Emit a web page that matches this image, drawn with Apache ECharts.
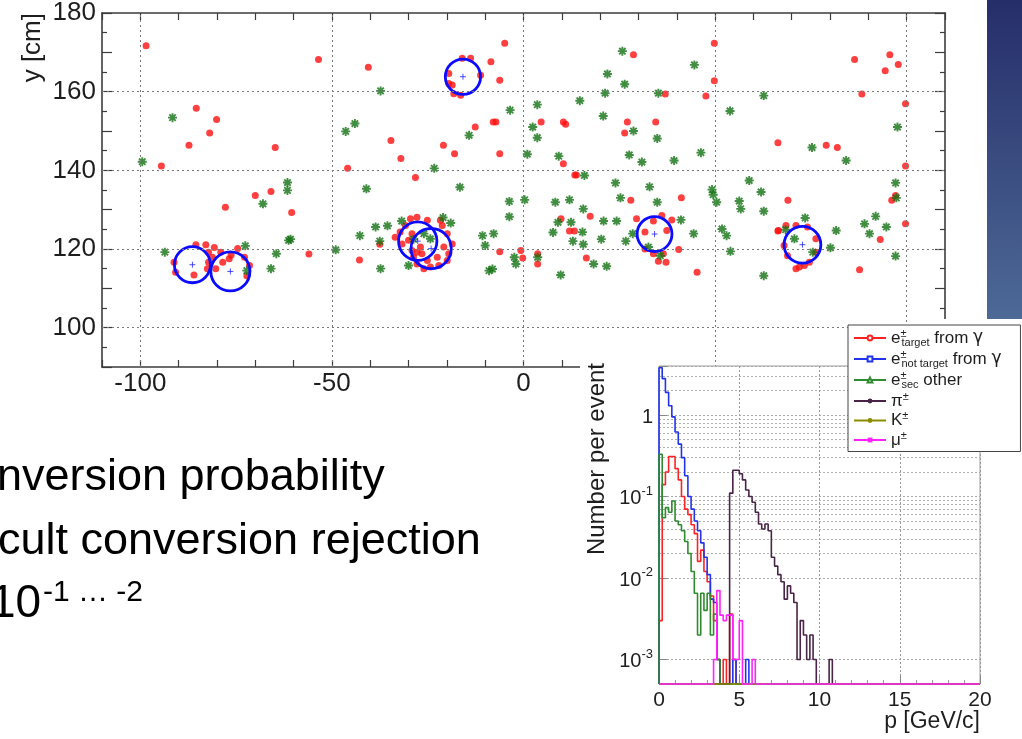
<!DOCTYPE html>
<html><head><meta charset="utf-8">
<script src="https://cdn.jsdelivr.net/npm/echarts@6/dist/echarts.min.js"></script>
<style>html,body{margin:0;padding:0;background:#fff}#c{width:1022px;height:739px}</style>
</head><body><div id="c"></div>
<script>
const FONT = '"Liberation Sans", Arial, Helvetica, sans-serif';

// ---------- scatter (hit map) data ----------
const RED_POINTS = [
[-98.5,171.7],[-53.5,168.2],[-85.4,155.8],[-80.1,152.9],[-81.9,149.5],[-87.3,146.4],[-94.5,141.1],[-64.8,145.8],[-77.8,130.6],[-70.0,133.6],[-65.9,134.6],[-60.5,129.3],[-56.0,118.7],
[-40.5,166.2],[-45.9,140.5],[-34.6,147.6],[-32.0,143.0],[-28.2,138.2],[-20.9,146.4],[-18.0,144.2],[-12.6,151.0],[-7.9,152.3],[-7.2,152.3],[-6.2,162.9],[-8.5,167.6],[-4.9,172.3],[-6.2,144.2],[-6.2,119.3],[-42.8,117.2],[-37.5,121.2],
[-85.5,121.1],[-82.9,121.1],[-80.7,120.4],[-82.2,119.2],[-81.2,117.9],[-82.2,116.6],[-82.5,115.0],[-86.0,113.4],[-91.2,116.6],[-90.8,114.1],[-79.0,119.2],[-76.3,118.5],[-74.6,120.1],[-72.8,117.9],[-71.5,115.8],[-72.2,113.2],[-76.8,117.5],[-78.5,116.6],[-80.3,115.0],
[-33.5,123.0],[-32.2,124.3],[-31.7,121.3],[-29.5,127.7],[-27.8,128.1],[-25.1,127.3],[-21.7,127.3],[-21.2,126.0],[-19.9,123.9],[-18.6,121.3],[-19.5,118.8],[-19.9,117.1],[-22.1,115.8],[-24.3,115.4],[-26.0,115.0],[-27.8,116.2],[-28.7,117.9],[-29.1,119.6],[-27.8,119.2],[-26.5,118.8],[-26.9,120.5],[-30.0,122.2],[-29.1,123.9],[-30.8,126.0],[-22.5,117.9],[-25.1,117.1],[-20.8,120.5],
[-16.0,168.5],[-13.8,168.5],[-11.2,164.2],[-19.5,164.6],[-19.5,162.1],[-18.6,161.7],[-18.2,159.5],[-16.4,159.1],
[29.5,127.7],[31.7,124.3],[33.9,127.1],[36.1,128.5],[31.7,120.0],[33.9,118.8],[36.5,118.8],[37.2,116.6],[35.2,116.9],[37.4,124.7],
[66.5,124.7],[68.5,126.0],[71.1,126.0],[74.1,125.6],[76.3,122.6],[76.3,119.2],[74.6,116.6],[72.0,115.4],[71.1,115.0],[68.9,118.3],[68.0,120.9],[73.3,115.8],
[28.7,169.4],[49.8,172.3],[49.8,162.8],[47.6,158.9],[37.0,159.4],[4.6,152.3],[10.4,152.3],[11.0,151.7],[27.1,152.3],[34.5,152.3],[26.4,149.5],[10.4,141.7],[13.4,138.8],[13.8,138.8],[66.4,147.0],[79.0,146.4],[81.9,145.8],[86.4,168.2],[95.6,169.4],[97.8,166.9],[94.4,165.3],[88.3,159.4],[99.7,156.9],[99.7,141.1],[97.1,133.6],[96.1,132.4],[99.7,126.4],[69.0,132.4],[41.2,133.0],[28.0,132.4],[17.4,128.3],[9.8,127.7],[12.0,124.6],[13.3,124.6],[38.7,127.4],[40.5,119.9],[45.3,114.1],[16.4,117.7],[3.7,118.8],[3.7,116.2],[-0.7,119.6],[-0.2,117.7],[87.7,114.7],[93.1,122.4],[66.4,124.6]
];
const GREEN_POINTS = [
[-99.5,142.2],[-91.6,153.4],[-93.6,119.2],[-68.0,131.5],[-61.6,136.9],[-61.6,134.9],[-61.3,122.2],[-60.8,122.5],[-64.5,118.8],[-65.9,115.0],[-72.6,120.8],[-72.2,114.5],[-49.0,119.8],[-37.3,160.2],[-44.0,151.9],[-46.4,149.9],[-41.0,135.3],[-23.3,140.5],[-16.6,135.7],[-14.2,148.9],[-3.5,155.3],[-3.7,132.1],[-3.7,128.2],[-42.7,123.4],[-38.6,125.6],[-35.5,125.9],[-31.8,127.1],[-37.5,122.0],[-37.3,115.0],[-30.0,115.8],[-21.0,128.0],[-19.0,126.6],[-26.0,123.9],[-24.3,122.6],[-28.7,122.5],[-10.7,123.4],[-7.8,123.9],[-10.0,120.9],[-9.0,114.5],[-8.1,114.9],[-2.4,117.9],[-2.0,116.2],
[25.8,170.3],[44.6,166.8],[21.9,164.5],[26.4,161.9],[21.3,159.6],[35.2,159.6],[14.7,157.7],[3.6,156.7],[20.8,153.8],[2.4,151.0],[3.6,148.3],[28.7,150.0],[34.9,148.1],[53.9,155.1],[62.7,159.0],[75.3,145.8],[84.2,142.5],[97.6,151.0],[1.0,144.1],[9.2,143.6],[27.6,143.9],[30.9,142.1],[39.3,142.5],[46.3,144.5],[15.9,138.7],[24.0,136.8],[32.9,135.8],[58.9,137.4],[62.0,134.5],[49.2,135.1],[49.5,133.8],[50.4,131.9],[0.3,132.5],[8.3,131.9],[12.0,132.5],[25.3,133.0],[34.9,131.9],[15.6,130.2],[56.3,132.2],[56.7,130.2],[62.7,129.6],[9.0,126.8],[12.4,126.8],[7.7,124.2],[15.4,124.3],[20.9,127.1],[24.3,127.1],[41.1,127.4],[20.3,122.5],[12.9,122.0],[15.6,121.2],[26.7,122.0],[28.5,123.9],[44.4,123.9],[51.8,125.1],[53.0,123.4],[54.0,119.4],[32.6,120.5],[35.7,118.3],[73.5,127.9],[70.7,122.6],[75.5,119.2],[81.6,124.7],[80.1,120.3],[89.0,126.4],[90.3,123.9],[91.9,128.3],[94.7,125.6],[97.1,136.8],[97.3,133.0],[97.1,118.2],[62.7,113.2],[9.7,113.4],[18.3,116.2],[21.7,115.6],[3.7,117.9],[68.4,124.9]
];
// ring fits: [x centre, y centre, radius] in cm
const CIRCLES = [[-86.4,116.0,4.7],[-76.5,114.3,5.1],[-15.8,163.8,4.6],[-27.6,122.0,5.0],[-24.1,120.1,5.25],[34.2,123.8,4.55],[72.8,121.1,4.8]];
const SCATTER_X_GRID = [-100,-50,0,50,100];
const SCATTER_Y_GRID = [100,120,140,160];

// ---------- momentum histograms (0.2 GeV/c bins from 0) ----------
const BIN = 0.2, P_MAX = 20, YMIN = 5e-4, YMAX = 4;
const H_TARGET    = [0.003,0.14,0.2,0.31,0.31,0.22,0.16,0.1,0.07,0.06,0.045,0.035,0.016,0.022,0.012,0.009,0.006,0.003,0.001,0,0.001,0,0.0036,0.001];
const H_NOTTARGET = [3.8,2.8,1.9,1.3,0.95,0.62,0.44,0.3,0.18,0.1,0.07,0.05,0.038,0.027,0.018,0.011,0.0055,0.005,0.001,0,0,0,0,0.001,0,0,0,0.001];
const H_SEC       = [0.33,0.055,0.073,0.064,0.088,0.05,0.045,0.038,0.028,0.02,0.012,0.0065,0.002,0.0065,0.004,0.0065,0.002,0.0036,0.001];
const H_PI        = [0,0,0,0,0,0,0,0,0,0,0,0,0,0,0,0,0,0,0,0,0,0,0.11,0.21,0.21,0.19,0.16,0.12,0.1,0.085,0.064,0.046,0.04,0.046,0.038,0.018,0.014,0.011,0.009,0.0055,0.008,0.0065,0.005,0.001,0.003,0.002,0.001,0.002,0.001,0,0,0,0,0.001];
const H_K         = [0];
const H_MU        = [0,0,0,0,0,0,0,0,0,0,0,0,0,0,0,0,0,0.001,0.007,0.0035,0.003,0.0035,0.0035,0.001,0.001,0.003,0,0,0,0.001];
const HIST_NAMES  = ['etarget','enottarget','esec','pi','K','mu'];
const HIST_VALUES = [H_TARGET,H_NOTTARGET,H_SEC,H_PI,H_K,H_MU];
const HIST_COLORS = ['#ff2222','#2233ee','#2e8b2e','#4a2448','#8c8c00','#ff22ff'];
const HIST_SYMBOLS= ['emptyCircle','emptyRect','emptyTriangle','circle','circle','rect'];
const LEGEND_TEXT = {
  etarget: '{m|e}{p|±}{s|target}{m| from }{g|γ}',
  enottarget: '{m|e}{p|±}{s|not target}{m| from }{g|γ}',
  esec: '{m|e}{p|±}{s|sec}{m| other}',
  pi: '{m|π}{q|±}', K: '{m|K}{q|±}', mu: '{m|μ}{q|±}'
};

function histPoints(vals){
  const pts = [[0, YMIN]];
  vals.forEach((v,i) => pts.push([i*BIN, v > 0 ? v : YMIN]));
  pts.push([vals.length*BIN, YMIN]);
  pts.push([P_MAX, YMIN]);
  return pts;
}
const minorLog = [];
for (let k = -4; k <= 0; k++) for (let m = 2; m <= 9; m++) { const v = m*Math.pow(10,k); if (v > YMIN && v < YMAX) minorLog.push({yAxis: v}); }

const chart = echarts.init(document.getElementById('c'));
const axisCol = '#3c3c3c';
const sxBase = {type:'value', gridIndex:0, min:-110, max:110, interval:10,
  axisLine:{show:true, onZero:false, lineStyle:{color:axisCol, width:1.6}},
  axisTick:{show:true, inside:true, length:7, lineStyle:{color:axisCol, width:1.2}},
  splitLine:{show:false}};
const syBase = {type:'value', gridIndex:0, min:90, max:180, interval:10,
  axisLine:{show:true, onZero:false, lineStyle:{color:axisCol, width:1.6}},
  axisTick:{show:true, inside:true, length:10, lineStyle:{color:axisCol, width:1.2}},
  minorTick:{show:true, splitNumber:2, length:5, lineStyle:{color:axisCol, width:1.2}},
  splitLine:{show:false}};
const ASTERISK = 'path://M4.5,0L4.5,9M0,4.5L9,4.5M1.3,1.3L7.7,7.7M1.3,7.7L7.7,1.3';
const PLUS = 'path://M0,3L6,3M3,0L3,6';

const histSeries = HIST_NAMES.map((n,i) => ({
  name:n, type:'line', xAxisIndex:2, yAxisIndex:2, step:'end', showSymbol:false,
  symbol:HIST_SYMBOLS[i], symbolSize:4, clip:false, silent:true, z:12,
  itemStyle:{color:HIST_COLORS[i]}, lineStyle:{color:HIST_COLORS[i], width:1.6},
  data: histPoints(HIST_VALUES[i])
}));

chart.setOption({
  animation:false,
  backgroundColor:'#fff',
  textStyle:{fontFamily:FONT},
  grid:[
    {left:102, top:13, width:843, height:354, show:false},
    {left:659, top:366, width:321, height:318, show:true, borderColor:'#9a9a9a', borderWidth:1, backgroundColor:'rgba(0,0,0,0)', z:10}
  ],
  xAxis:[
    Object.assign({}, sxBase, {position:'bottom', axisLabel:{show:true, fontSize:26, color:'#1e1e1e', margin:4, fontFamily:FONT, formatter:v => (v % 50 === 0 ? String(v) : '')}}),
    Object.assign({}, sxBase, {position:'top', axisLabel:{show:false}}),
    {type:'value', gridIndex:1, min:0, max:P_MAX, interval:5, z:10,
      axisLine:{show:false}, axisTick:{show:true, inside:true, length:8, lineStyle:{color:'#888'}},
      minorTick:{show:true, splitNumber:5, length:4, lineStyle:{color:'#999'}},
      splitLine:{show:true, lineStyle:{color:'#999', type:[2,2], width:1}},
      axisLabel:{fontSize:21, color:'#1e1e1e', margin:6, fontFamily:FONT}}
  ],
  yAxis:[
    Object.assign({}, syBase, {position:'left', axisLabel:{show:true, fontSize:26, color:'#1e1e1e', margin:6, fontFamily:FONT, formatter:v => (v % 20 === 0 ? String(v) : '')}}),
    Object.assign({}, syBase, {position:'right', axisLabel:{show:false}}),
    {type:'log', logBase:10, gridIndex:1, min:YMIN, max:YMAX, z:10,
      axisLine:{show:false}, axisTick:{show:true, inside:true, length:8, lineStyle:{color:'#888'}},
      splitLine:{show:true, lineStyle:{color:'#aaa', type:[2,2], width:1}},
      axisLabel:{margin:6, fontFamily:FONT, color:'#1e1e1e',
        formatter:v => { const l = Math.log10(v), e = Math.round(l); if (Math.abs(l-e) > 0.01) return ''; return e === 0 ? '{b|1}' : '{b|10}{s|' + e + '}'; },
        rich:{b:{fontSize:20, lineHeight:24, verticalAlign:'bottom', fontFamily:FONT, color:'#1e1e1e'},
              s:{fontSize:13, lineHeight:13, verticalAlign:'top', fontFamily:FONT, color:'#1e1e1e'}}}}
  ],
  legend:{
    data:HIST_NAMES, orient:'vertical', left:848, top:325, z:30, selectedMode:false,
    backgroundColor:'#fff', borderColor:'#444', borderWidth:1, padding:[3,19,3,5],
    itemGap:1, itemWidth:32, itemHeight:6,
    formatter:n => LEGEND_TEXT[n],
    textStyle:{fontFamily:FONT, color:'#1e1e1e', rich:{
      m:{fontSize:17, lineHeight:20, fontFamily:FONT, color:'#1e1e1e'},
      g:{fontSize:17, lineHeight:20, fontFamily:'"DejaVu Sans", sans-serif', color:'#1e1e1e'},
      p:{fontSize:11, lineHeight:11, verticalAlign:'top', width:1, fontFamily:FONT, color:'#1e1e1e'},
      q:{fontSize:11, lineHeight:11, verticalAlign:'top', fontFamily:FONT, color:'#1e1e1e'},
      s:{fontSize:11, lineHeight:12, verticalAlign:'bottom', fontFamily:FONT, color:'#1e1e1e'}
    }}
  },
  series:[
    {type:'line', xAxisIndex:0, yAxisIndex:0, data:[], silent:true, z:1,
      markLine:{silent:true, symbol:['none','none'], label:{show:false}, animation:false,
        lineStyle:{color:'#7a7a7a', type:[2,3], width:1},
        data:SCATTER_X_GRID.map(v => ({xAxis:v})).concat(SCATTER_Y_GRID.map(v => ({yAxis:v})))}},
    {type:'scatter', xAxisIndex:0, yAxisIndex:0, data:RED_POINTS, symbol:'circle', symbolSize:7, silent:true, z:3,
      itemStyle:{color:'#ff1010'}},
    {type:'scatter', xAxisIndex:0, yAxisIndex:0, data:GREEN_POINTS, symbol:ASTERISK, symbolSize:9, silent:true, z:3,
      itemStyle:{color:'rgba(0,0,0,0)', borderColor:'#127012', borderWidth:1.9}},
    {type:'custom', xAxisIndex:0, yAxisIndex:0, data:CIRCLES, silent:true, z:4, encode:{x:0, y:1},
      renderItem:(params, api) => {
        const c = api.coord([api.value(0), api.value(1)]);
        const r = api.size([api.value(2), 0])[0];
        return {type:'circle', shape:{cx:c[0], cy:c[1], r:r}, style:{fill:'none', stroke:'#0b0bff', lineWidth:2.8}};
      }},
    {type:'scatter', xAxisIndex:0, yAxisIndex:0, data:CIRCLES.map(c => [c[0], c[1]]), symbol:PLUS, symbolSize:6, silent:true, z:4,
      itemStyle:{color:'rgba(0,0,0,0)', borderColor:'#2222ff', borderWidth:1}},
    {type:'line', xAxisIndex:2, yAxisIndex:2, data:[], silent:true, z:11,
      markLine:{silent:true, symbol:['none','none'], label:{show:false}, animation:false,
        lineStyle:{color:'#b0b0b0', type:[2,2], width:1}, data:minorLog}}
  ].concat(histSeries),
  graphic:[
    {type:'rect', z:5, shape:{x:580, y:319, width:442, height:420}, style:{fill:'#fff'}},
    {type:'rect', z:5, shape:{x:987, y:0, width:35, height:319},
      style:{fill:new echarts.graphic.LinearGradient(0,0,0,1,[{offset:0,color:'#262e6a'},{offset:1,color:'#4d6996'}])}},
    {type:'text', z:6, x:33, y:13, rotation:Math.PI/2,
      style:{text:'y [cm]', fontSize:26, fontFamily:FONT, fill:'#1e1e1e', textAlign:'right', align:'right', textVerticalAlign:'middle', verticalAlign:'middle'}},
    {type:'text', z:20, x:597, y:363, rotation:Math.PI/2,
      style:{text:'Number per event', fontSize:24, fontFamily:FONT, fill:'#1e1e1e', textAlign:'right', align:'right', textVerticalAlign:'middle', verticalAlign:'middle'}},
    {type:'text', z:20, x:980, y:722,
      style:{text:'p [GeV/c]', fontSize:23, fontFamily:FONT, fill:'#1e1e1e', textAlign:'right', align:'right', textVerticalAlign:'middle', verticalAlign:'middle'}},
    {type:'text', z:20, x:-3, y:478,
      style:{text:'nversion probability', fontSize:45, fontFamily:FONT, fill:'#000', textAlign:'left', align:'left', textVerticalAlign:'middle', verticalAlign:'middle'}},
    {type:'text', z:20, x:-2, y:542,
      style:{text:'cult conversion rejection', fontSize:45, fontFamily:FONT, fill:'#000', textAlign:'left', align:'left', textVerticalAlign:'middle', verticalAlign:'middle'}},
    {type:'text', z:20, x:-10, y:604,
      style:{text:'10', fontSize:46, fontFamily:FONT, fill:'#000', textAlign:'left', align:'left', textVerticalAlign:'middle', verticalAlign:'middle'}},
    {type:'text', z:20, x:43, y:593,
      style:{text:'-1 … -2', fontSize:30, fontFamily:FONT, fill:'#000', textAlign:'left', align:'left', textVerticalAlign:'middle', verticalAlign:'middle'}}
  ]
});
</script></body></html>
